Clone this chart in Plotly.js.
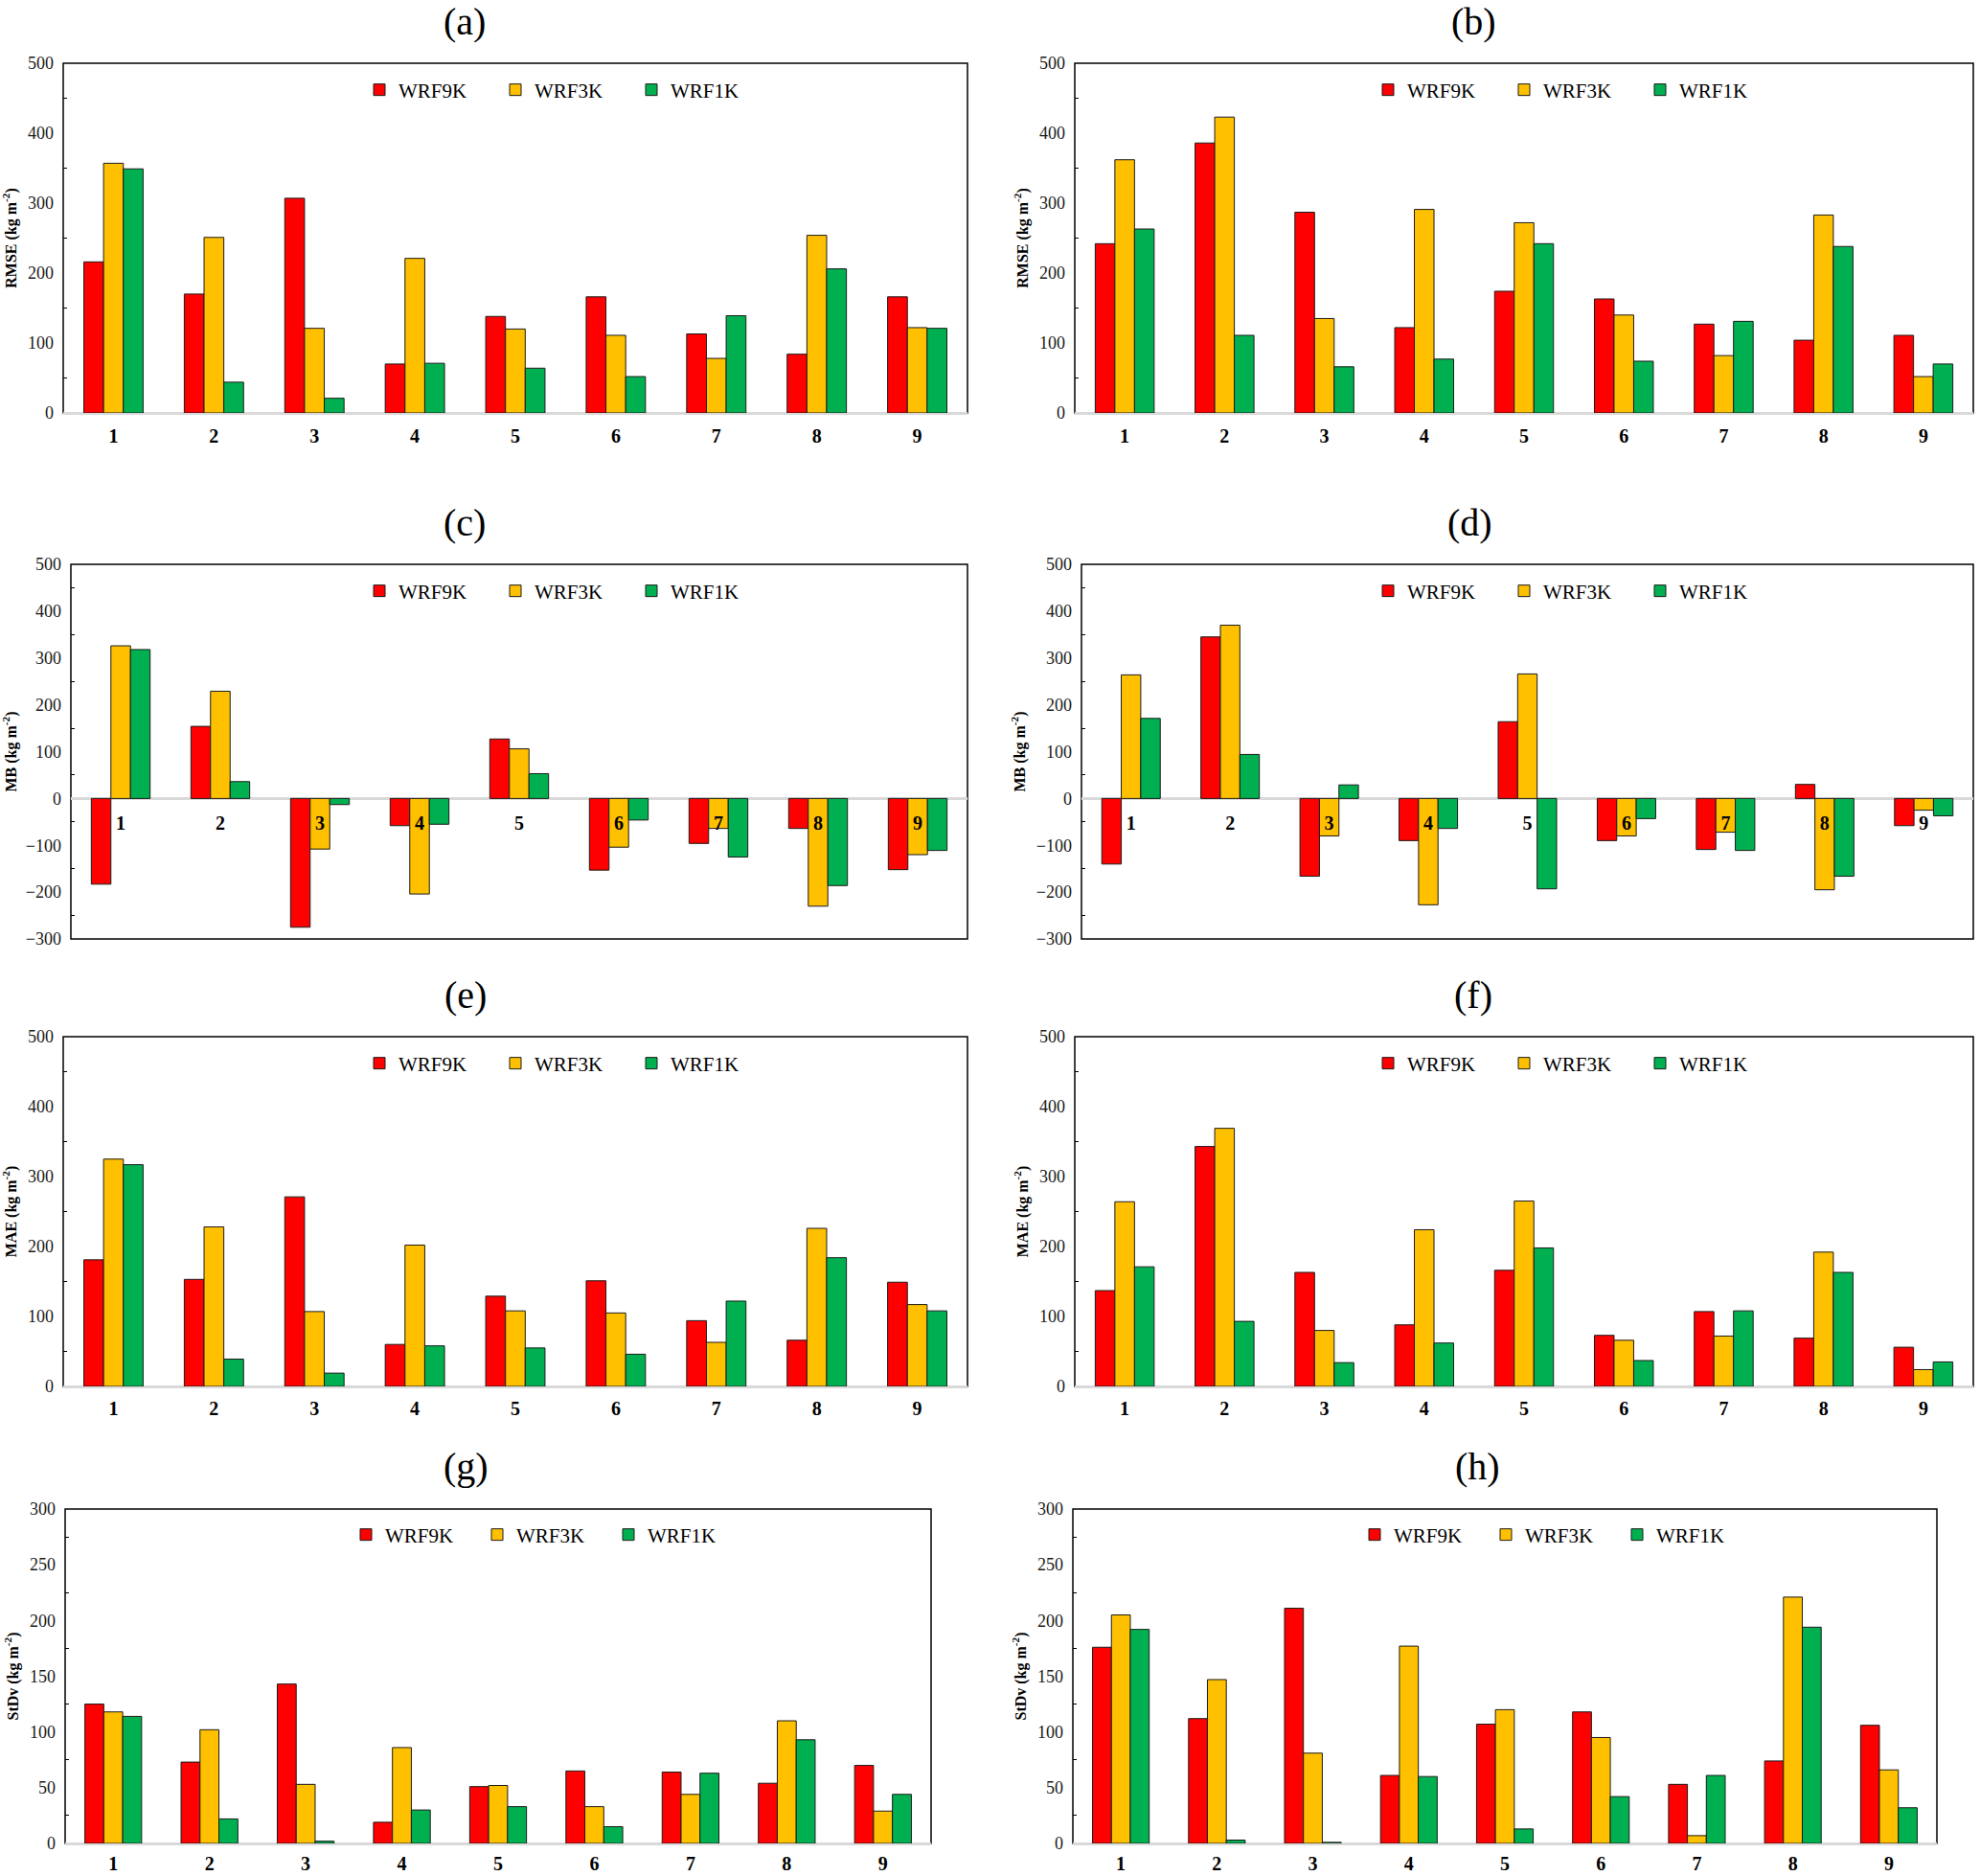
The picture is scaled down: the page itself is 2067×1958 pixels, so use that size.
<!DOCTYPE html>
<html><head><meta charset="utf-8">
<script src="https://cdn.plot.ly/plotly-3.0.1.min.js"></script>
<style>html,body{margin:0;padding:0;background:#fff}</style>
</head><body>
<div id="chart" style="width:2067px;height:1958px"></div>
<script>
// ---------- data ----------
const categories = ['1','2','3','4','5','6','7','8','9'];
const seriesNames = ['WRF9K','WRF3K','WRF1K'];

const a_WRF9K = [216, 170, 307, 70, 138, 166, 113, 84, 166];
const a_WRF3K = [357, 251, 121, 221, 120, 111, 78, 254, 122];
const a_WRF1K = [349, 44, 21, 71, 64, 52, 139, 206, 121];

const b_WRF9K = [242, 386, 287, 122, 174, 163, 127, 104, 111];
const b_WRF3K = [362, 423, 135, 291, 272, 140, 82, 283, 52];
const b_WRF1K = [263, 111, 66, 77, 242, 74, 131, 238, 70];

const c_WRF9K = [-183, 154, -275, -58, 127, -153, -96, -64, -152];
const c_WRF3K = [326, 229, -108, -204, 106, -104, -64, -230, -120];
const c_WRF1K = [318, 36, -13, -55, 53, -46, -125, -186, -111];

const d_WRF9K = [-140, 345, -166, -90, 164, -90, -109, 30, -58];
const d_WRF3K = [264, 370, -80, -227, 266, -80, -72, -195, -25];
const d_WRF1K = [171, 94, 29, -64, -193, -43, -111, -166, -37];

const e_WRF9K = [181, 153, 271, 60, 129, 151, 94, 66, 149];
const e_WRF3K = [325, 228, 107, 202, 108, 105, 63, 226, 117];
const e_WRF1K = [317, 39, 19, 58, 55, 46, 122, 184, 108];

const f_WRF9K = [137, 343, 163, 88, 166, 73, 107, 69, 56];
const f_WRF3K = [264, 369, 80, 224, 265, 66, 72, 192, 24];
const f_WRF1K = [171, 93, 34, 62, 198, 37, 108, 163, 35];

const g_WRF9K = [125, 73, 143, 19, 51, 65, 64, 54, 70];
const g_WRF3K = [118, 102, 53, 86, 52, 33, 44, 110, 29];
const g_WRF1K = [114, 22, 2, 30, 33, 15, 63, 93, 44];

const h_WRF9K = [176, 112, 211, 61, 107, 118, 53, 74, 106];
const h_WRF3K = [205, 147, 81, 177, 120, 95, 7, 221, 66];
const h_WRF1K = [192, 3, 1, 60, 13, 42, 61, 194, 32];

const panelLabels = ['(a)','(b)','(c)','(d)','(e)','(f)','(g)','(h)'];
const yTitles = ['RMSE','RMSE','MB','MB','MAE','MAE','StDv','StDv'];
const panelData = [
  [a_WRF9K, a_WRF3K, a_WRF1K], [b_WRF9K, b_WRF3K, b_WRF1K],
  [c_WRF9K, c_WRF3K, c_WRF1K], [d_WRF9K, d_WRF3K, d_WRF1K],
  [e_WRF9K, e_WRF3K, e_WRF1K], [f_WRF9K, f_WRF3K, f_WRF1K],
  [g_WRF9K, g_WRF3K, g_WRF1K], [h_WRF9K, h_WRF3K, h_WRF1K]
];

// ---------- styling / layout ----------
const W = 2067, H = 1958;
const colors = ['#FF0000', '#FFC000', '#00B050'];
const FONT = 'Liberation Serif, Times New Roman, serif';

const geom = [
  {px:[66,1010],  py:[66,431],   range:[0,500],   dtick:100, minor:50, title:[485,22],  leg:[376,94],  xs:10},
  {px:[1122,2060],py:[66,431],   range:[0,500],   dtick:100, minor:50, title:[1538,22], leg:[1429,94], xs:10},
  {px:[74,1010],  py:[589,980],  range:[-300,500],dtick:100, minor:50, title:[485,545], leg:[376,617], xs:12},
  {px:[1129,2060],py:[589,980],  range:[-300,500],dtick:100, minor:50, title:[1534,545],leg:[1429,617],xs:12},
  {px:[66,1010],  py:[1082,1447],range:[0,500],   dtick:100, minor:50, title:[486,1038],leg:[376,1110],xs:9},
  {px:[1122,2060],py:[1082,1447],range:[0,500],   dtick:100, minor:50, title:[1538,1038],leg:[1429,1110],xs:9},
  {px:[68,972],   py:[1575,1924],range:[0,300],   dtick:50,  minor:25, title:[486,1530],leg:[362,1602],xs:7},
  {px:[1120,2022],py:[1575,1924],range:[0,300],   dtick:50,  minor:25, title:[1542,1530],leg:[1415,1602],xs:7}
];

const traces = [];
const layout = {
  width: W, height: H,
  margin: {l:0, r:0, t:0, b:0},
  paper_bgcolor: '#fff', plot_bgcolor: '#fff',
  barmode: 'group', bargap: 0.41, bargroupgap: 0,
  font: {family: FONT, color: '#000'},
  shapes: [], annotations: []
};

geom.forEach((g, i) => {
  const s = i === 0 ? '' : String(i + 1);
  const xd = [g.px[0] / W, g.px[1] / W];
  const yd = [1 - g.py[1] / H, 1 - g.py[0] / H];
  const legName = 'legend' + s;

  panelData[i].forEach((vals, k) => {
    traces.push({
      type: 'bar', x: categories, y: vals, name: seriesNames[k],
      xaxis: 'x' + s, yaxis: 'y' + s, legend: legName,
      marker: {color: colors[k], line: {color: '#1a1a1a', width: 1}},
      hoverinfo: 'skip'
    });
  });

  const xa = {
    domain: xd, type: 'category', showgrid: false, zeroline: false, showline: false,
    ticks: '', ticklabelstandoff: g.xs,
    tickfont: {family: FONT, size: 20, weight: 'bold', color: '#000'},
    fixedrange: true
  };
  if (g.range[0] < 0) {
    xa.anchor = 'free';
    xa.position = yd[0] + (0 - g.range[0]) / (g.range[1] - g.range[0]) * (yd[1] - yd[0]);
  } else {
    xa.anchor = 'y' + s;
  }
  layout['xaxis' + s] = xa;

  layout['yaxis' + s] = {
    domain: yd, anchor: 'x' + s, range: g.range, tick0: 0, dtick: g.dtick,
    showgrid: false, showline: false, ticks: '',
    zeroline: true, zerolinecolor: '#d9d9d9', zerolinewidth: 3,
    minor: {ticks: 'inside', ticklen: 4, dtick: g.minor, tick0: 0, tickcolor: '#000', tickwidth: 1, showgrid: false},
    tickfont: {family: FONT, size: 18, color: '#1a1a1a'},
    ticklabelstandoff: 9,
    title: {text: yTitles[i] + ' (kg m<sup>-2</sup>)', standoff: 7,
            font: {family: FONT, size: 16, weight: 'bold', color: '#000'}},
    fixedrange: true
  };

  layout.shapes.push({
    type: 'rect', xref: 'x' + s + ' domain', yref: 'y' + s + ' domain',
    x0: 0, x1: 1, y0: 0, y1: 1, line: {color: '#000', width: 1.5}, layer: 'below'
  });

  layout.annotations.push({
    xref: 'paper', yref: 'paper', x: g.title[0] / W, y: 1 - g.title[1] / H,
    text: panelLabels[i], showarrow: false, xanchor: 'center', yanchor: 'middle',
    font: {family: FONT, size: 40, color: '#000'}
  });

  layout[legName] = {
    x: g.leg[0] / W, y: 1 - g.leg[1] / H, xanchor: 'left', yanchor: 'middle',
    orientation: 'h', bgcolor: 'rgba(0,0,0,0)', borderwidth: 0,
    font: {family: FONT, size: 21, color: '#000'},
    entrywidth: i >= 6 ? 92 : 97, entrywidthmode: 'pixels', traceorder: 'normal'
  };
});

Plotly.newPlot('chart', traces, layout, {staticPlot: true, displayModeBar: false});
</script>
</body></html>
